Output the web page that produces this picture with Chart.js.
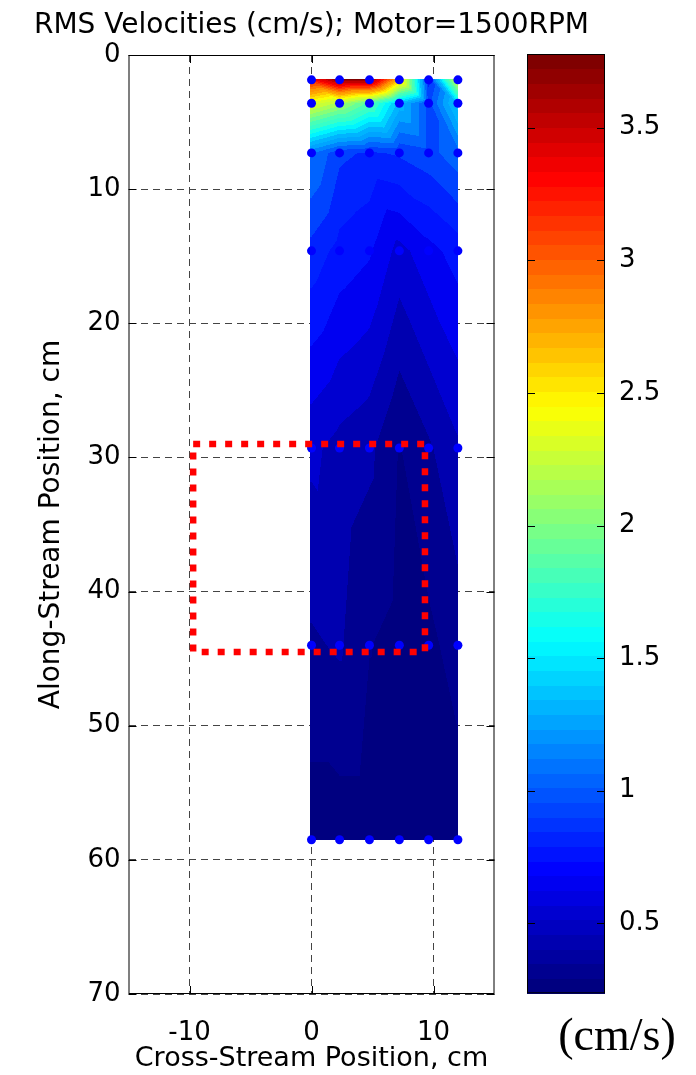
<!DOCTYPE html>
<html>
<head>
<meta charset="utf-8">
<script src="https://cdn.jsdelivr.net/npm/chart.js@4.4.0/dist/chart.umd.min.js"></script>
<style>
  html, body { margin: 0; padding: 0; background: #fff; }
  #wrap { position: relative; width: 696px; height: 1075px; }
  #main { position: absolute; left: 0; top: 0; }
  #bar { position: absolute; left: 500px; top: 0; }
</style>
</head>
<body>
<div id="wrap">
  <canvas id="main" width="696" height="1075"></canvas>
  <canvas id="bar" width="196" height="1075"></canvas>
</div>
<script>
// measurement grid (cm)
const crossPos = [0, 2.3, 4.75, 7.2, 9.6, 12];
const alongPos = [1.85, 3.6, 7.3, 14.6, 29.3, 44, 58.5];

// RMS velocity (cm/s), one row per along-stream position
const rmsRows = [
  [3.3, 3.77, 3.75, 2.7, 0.9, 2.4],
  [2.4, 2.2, 1.9, 1.4, 1.0, 1.5],
  [1.15, 0.96, 0.92, 0.95, 1.0, 1.1],
  [0.9, 0.8, 0.75, 0.6, 0.7, 0.78],
  [0.56, 0.5, 0.46, 0.33, 0.42, 0.52],
  [0.42, 0.45, 0.34, 0.3, 0.31, 0.38],
  [0.28, 0.28, 0.28, 0.28, 0.28, 0.28]
];

const crossTicks = [-10, 0, 10];
const alongTicks = [0, 10, 20, 30, 40, 50, 60, 70];
const colorTicks = [0.5, 1, 1.5, 2, 2.5, 3, 3.5];
const colorRange = [0.236, 3.778];
const levelStep = 0.1;

// dotted outline corners (cross, along)
const boxCross = [-9.7, 9.3, 9.3, -9.7, -9.7];
const boxAlong = [29, 29, 44.5, 44.5, 29];

const FONT = "'DejaVu Sans', sans-serif";
const tickFont = { family: FONT, size: 26 };
const labelFont = { family: FONT, size: 28 };

// matlab style jet, 64 colours
function jet(t) {
  const k = Math.max(0, Math.min(63, Math.floor(t * 64)));
  const f = k / 63;
  const c = v => Math.round(255 * Math.min(1, Math.max(0, v)));
  return `rgb(${c(1.5 - Math.abs(4 * f - 3))},${c(1.5 - Math.abs(4 * f - 2))},${c(1.5 - Math.abs(4 * f - 1))})`;
}

function levelColor(v) {
  const idx = Math.floor((v - colorRange[0]) / levelStep);
  const lv = colorRange[0] + idx * levelStep;
  return jet((lv - colorRange[0]) / (colorRange[1] - colorRange[0]));
}

function findCell(arr, v) {
  let i = 0;
  while (i < arr.length - 2 && v > arr[i + 1]) i++;
  return i;
}

// linear interpolation on triangles, like griddata
function valueAt(xv, yv) {
  const i = findCell(crossPos, xv);
  const j = findCell(alongPos, yv);
  const u = Math.min(1, Math.max(0, (xv - crossPos[i]) / (crossPos[i + 1] - crossPos[i])));
  const v = Math.min(1, Math.max(0, (yv - alongPos[j]) / (alongPos[j + 1] - alongPos[j])));
  const z00 = rmsRows[j][i], z10 = rmsRows[j][i + 1];
  const z01 = rmsRows[j + 1][i], z11 = rmsRows[j + 1][i + 1];
  if (u >= v) return z00 + u * (z10 - z00) + v * (z11 - z10);
  return z00 + v * (z01 - z00) + u * (z11 - z01);
}

const contourPlugin = {
  id: "contour",
  beforeDatasetsDraw(chart) {
    const { ctx, scales: { x, y } } = chart;
    const left = Math.floor(x.getPixelForValue(crossPos[0])) - 1;
    const right = Math.ceil(x.getPixelForValue(crossPos[crossPos.length - 1]));
    const top = Math.floor(y.getPixelForValue(alongPos[0]));
    const bottom = Math.round(y.getPixelForValue(alongPos[alongPos.length - 1]));
    ctx.save();
    for (let py = top; py < bottom; py++) {
      const yv = y.getValueForPixel(py + 0.5);
      let runStart = left, runColor = null;
      for (let px = left; px <= right; px++) {
        const color = px < right ? levelColor(valueAt(x.getValueForPixel(px + 0.5), yv)) : null;
        if (color !== runColor) {
          if (runColor) {
            ctx.fillStyle = runColor;
            ctx.fillRect(runStart, py, px - runStart, 1);
          }
          runStart = px;
          runColor = color;
        }
      }
    }
    ctx.restore();
  }
};

// box round the axes, ticks pointing inward, and the title
const framePlugin = {
  id: "frame",
  afterDraw(chart) {
    const { ctx, chartArea: a, scales: { x, y } } = chart;
    ctx.save();
    ctx.strokeStyle = "#000";
    ctx.lineWidth = 1;
    ctx.strokeRect(a.left + 0.5, a.top + 0.5, a.right - a.left - 1, a.bottom - a.top - 1);
    ctx.beginPath();
    crossTicks.forEach(v => {
      const px = Math.round(x.getPixelForValue(v)) + 0.5;
      ctx.moveTo(px, a.bottom); ctx.lineTo(px, a.bottom - 8);
      ctx.moveTo(px, a.top); ctx.lineTo(px, a.top + 8);
    });
    alongTicks.forEach(v => {
      const py = Math.round(y.getPixelForValue(v)) + 0.5;
      ctx.moveTo(a.left, py); ctx.lineTo(a.left + 8, py);
      ctx.moveTo(a.right, py); ctx.lineTo(a.right - 8, py);
    });
    ctx.stroke();
    ctx.fillStyle = "#000";
    ctx.font = `28px ${FONT}`;
    ctx.textAlign = "center";
    ctx.textBaseline = "alphabetic";
    ctx.fillText("RMS Velocities (cm/s); Motor=1500RPM", (a.left + a.right) / 2, 33);
    ctx.restore();
  }
};

const dots = [];
alongPos.forEach(yv => crossPos.forEach(xv => dots.push({ x: xv, y: yv })));

new Chart(document.getElementById("main"), {
  type: "scatter",
  data: {
    datasets: [
      {
        type: "line",
        data: boxCross.map((xv, i) => ({ x: xv, y: boxAlong[i] })),
        borderColor: "#ff0000",
        borderWidth: 6.5,
        borderDash: [7, 9],
        borderCapStyle: "butt",
        pointRadius: 0,
        fill: false,
        tension: 0,
        order: 0
      },
      {
        data: dots,
        backgroundColor: "#0000ff",
        borderWidth: 0,
        pointRadius: 4.5,
        order: 1
      }
    ]
  },
  options: {
    responsive: false,
    animation: false,
    layout: { padding: { left: 0, top: 55, right: 696 - 494.5, bottom: 0 } },
    plugins: { legend: { display: false }, tooltip: { enabled: false } },
    scales: {
      x: {
        type: "linear",
        min: -15,
        max: 15,
        afterBuildTicks: s => { s.ticks = crossTicks.map(v => ({ value: v })); },
        afterFit: s => { s.height = 1075 - 994; },
        grid: { color: "#444", drawTicks: false },
        border: { display: false, dash: [7, 5] },
        ticks: { font: tickFont, color: "#000", padding: 24 },
        title: { display: true, text: "Cross-Stream Position, cm", font: { family: FONT, size: 27 }, color: "#000", padding: { top: 0, bottom: 0 } }
      },
      y: {
        type: "linear",
        reverse: true,
        min: 0,
        max: 70,
        afterBuildTicks: s => { s.ticks = alongTicks.map(v => ({ value: v })); },
        afterFit: s => { s.width = 128.5; },
        grid: { color: "#444", drawTicks: false },
        border: { display: false, dash: [7, 5] },
        ticks: { font: tickFont, color: "#000", padding: 8 },
        title: { display: true, text: "Along-Stream Position, cm", font: labelFont, color: "#000", padding: { top: 35, bottom: 0 } }
      }
    }
  },
  plugins: [contourPlugin, framePlugin]
});

const colorbarPlugin = {
  id: "colorbar",
  beforeDatasetsDraw(chart) {
    const { ctx, chartArea: a, scales: { y } } = chart;
    const step = (colorRange[1] - colorRange[0]) / 64;
    ctx.save();
    for (let k = 0; k < 64; k++) {
      const lo = colorRange[0] + k * step;
      const yTop = y.getPixelForValue(lo + step);
      const yBot = y.getPixelForValue(lo);
      ctx.fillStyle = jet((k + 0.5) / 64);
      ctx.fillRect(a.left, Math.floor(yTop), a.right - a.left, Math.ceil(yBot) - Math.floor(yTop));
    }
    ctx.strokeStyle = "#000";
    ctx.lineWidth = 1;
    ctx.strokeRect(a.left + 0.5, a.top + 0.5, a.right - a.left - 1, a.bottom - a.top - 1);
    ctx.beginPath();
    colorTicks.forEach(v => {
      const py = Math.round(y.getPixelForValue(v)) + 0.5;
      ctx.moveTo(a.left, py); ctx.lineTo(a.left + 8, py);
      ctx.moveTo(a.right, py); ctx.lineTo(a.right - 8, py);
    });
    ctx.stroke();
    ctx.fillStyle = "#000";
    ctx.font = "46px 'Liberation Serif', serif";
    ctx.textAlign = "center";
    ctx.textBaseline = "alphabetic";
    ctx.fillText("(cm/s)", 117, 1050);
    ctx.restore();
  }
};

new Chart(document.getElementById("bar"), {
  type: "scatter",
  data: { datasets: [] },
  options: {
    responsive: false,
    animation: false,
    layout: { padding: { left: 27, top: 54, right: 0, bottom: 1075 - 993.3 } },
    plugins: { legend: { display: false }, tooltip: { enabled: false } },
    scales: {
      x: { display: false, min: 0, max: 1 },
      y: {
        type: "linear",
        position: "right",
        min: colorRange[0],
        max: colorRange[1],
        afterBuildTicks: s => { s.ticks = colorTicks.map(v => ({ value: v })); },
        afterFit: s => { s.width = 196 - 105; },
        grid: { display: false },
        border: { display: false },
        ticks: { font: tickFont, color: "#000", padding: 6, callback: v => String(v) }
      }
    }
  },
  plugins: [colorbarPlugin]
});
</script>
</body>
</html>
